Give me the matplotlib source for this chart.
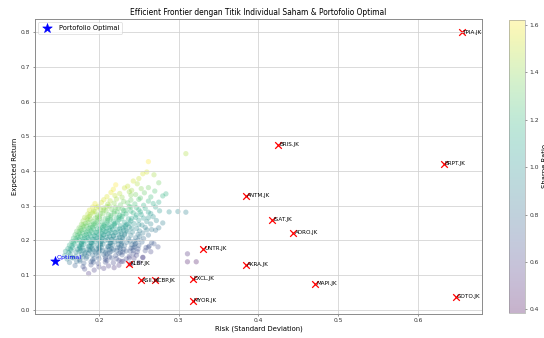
import numpy as np
import matplotlib.pyplot as plt

# Portofolio acak (risk, return)
port_risk = [
    0.262, 0.309,
    0.255, 0.260, 0.269,
    0.243, 0.250, 0.275,
    0.221, 0.236, 0.248, 0.262,
    0.218, 0.232, 0.241, 0.253, 0.270,
    0.215, 0.226, 0.238, 0.246, 0.257, 0.284,
    0.210, 0.220, 0.229, 0.240, 0.252, 0.265, 0.280,
    0.206, 0.214, 0.222, 0.231, 0.240, 0.250, 0.262, 0.275,
    0.195, 0.203, 0.211, 0.219, 0.227, 0.236, 0.245, 0.256, 0.268,
    0.192, 0.199, 0.206, 0.213, 0.221, 0.229, 0.238, 0.247, 0.258, 0.271,
    0.188, 0.195, 0.202, 0.209, 0.216, 0.223, 0.231, 0.240, 0.250, 0.262, 0.276,
    0.186, 0.192, 0.198, 0.205, 0.212, 0.219, 0.226, 0.234, 0.243, 0.253, 0.265, 0.288, 0.299, 0.309,
    0.182, 0.188, 0.195, 0.201, 0.208, 0.215, 0.222, 0.229, 0.237, 0.246, 0.256, 0.268,
    0.180, 0.186, 0.192, 0.198, 0.204, 0.211, 0.218, 0.225, 0.232, 0.240, 0.250, 0.260, 0.272,
    0.178, 0.183, 0.189, 0.195, 0.201, 0.207, 0.213, 0.220, 0.227, 0.235, 0.244, 0.254, 0.265, 0.280,
    0.175, 0.181, 0.187, 0.192, 0.198, 0.204, 0.210, 0.216, 0.223, 0.230, 0.238, 0.247, 0.258, 0.275,
    0.172, 0.178, 0.184, 0.190, 0.196, 0.202, 0.208, 0.214, 0.220, 0.227, 0.234, 0.242, 0.251, 0.260, 0.271,
    0.170, 0.176, 0.182, 0.188, 0.194, 0.200, 0.206, 0.212, 0.218, 0.225, 0.232, 0.240, 0.249, 0.262,
    0.168, 0.174, 0.180, 0.186, 0.192, 0.198, 0.204, 0.210, 0.216, 0.222, 0.229, 0.237, 0.246, 0.256,
    0.166, 0.172, 0.178, 0.184, 0.190, 0.196, 0.202, 0.208, 0.214, 0.220, 0.227, 0.235, 0.244, 0.254, 0.266,
    0.163, 0.169, 0.175, 0.181, 0.187, 0.193, 0.199, 0.205, 0.211, 0.217, 0.224, 0.232, 0.241, 0.250, 0.263, 0.274,
    0.161, 0.167, 0.173, 0.179, 0.185, 0.191, 0.197, 0.203, 0.209, 0.216, 0.223, 0.231, 0.240, 0.249, 0.259,
    0.158, 0.165, 0.171, 0.177, 0.183, 0.189, 0.195, 0.201, 0.208, 0.215, 0.222, 0.230, 0.239, 0.248, 0.265,
    0.157, 0.164, 0.171, 0.178, 0.185, 0.192, 0.199, 0.206, 0.213, 0.221, 0.229, 0.238, 0.247, 0.255, 0.311,
    0.160, 0.168, 0.176, 0.184, 0.192, 0.200, 0.208, 0.216, 0.225, 0.234, 0.244, 0.255,
    0.163, 0.172, 0.181, 0.190, 0.199, 0.208, 0.218, 0.228, 0.239, 0.250, 0.311, 0.322,
    0.170, 0.180, 0.190, 0.200, 0.212, 0.225, 0.240,
    0.182, 0.194, 0.206, 0.219,
    0.187,
    # inti yang lebih padat
    0.189, 0.201, 0.214, 0.228,
    0.186, 0.198, 0.210, 0.223, 0.238,
    0.184, 0.195, 0.207, 0.219, 0.233,
    0.181, 0.193, 0.205, 0.217, 0.231,
    0.179, 0.191, 0.203, 0.215, 0.228,
    0.177, 0.189, 0.201, 0.213, 0.226,
    0.175, 0.187, 0.199, 0.211, 0.224, 0.239,
    0.178, 0.190, 0.202, 0.214, 0.228, 0.245,
    0.176, 0.188, 0.200, 0.212, 0.226, 0.243,
    0.180, 0.192, 0.204, 0.218, 0.234,
    0.182, 0.196, 0.210, 0.225,
    # lapisan tambahan
    0.197, 0.210, 0.224, 0.240,
    0.193, 0.206, 0.219, 0.234, 0.252,
    0.189, 0.202, 0.215, 0.230, 0.247,
    0.185, 0.198, 0.211, 0.225, 0.241, 0.262,
    0.180, 0.193, 0.206, 0.219, 0.233, 0.250,
    0.177, 0.189, 0.201, 0.213, 0.226, 0.241, 0.266,
    0.175, 0.186, 0.197, 0.209, 0.221, 0.236, 0.255,
    0.173, 0.184, 0.195, 0.206, 0.218, 0.232, 0.251,
    0.171, 0.182, 0.193, 0.204, 0.216, 0.230, 0.249,
    0.168, 0.180, 0.191, 0.203, 0.215, 0.229, 0.246, 0.269,
    0.166, 0.178, 0.190, 0.202, 0.214, 0.228, 0.245, 0.262,
    0.164, 0.176, 0.188, 0.200, 0.213, 0.227, 0.243, 0.258,
    0.162, 0.175, 0.187, 0.200, 0.213, 0.227, 0.243,
    0.166, 0.180, 0.194, 0.208, 0.222, 0.238,
    0.176, 0.193, 0.210, 0.230,
]
port_return = [
    0.427, 0.450,
    0.392, 0.397, 0.389,
    0.371, 0.378, 0.366,
    0.360, 0.356, 0.363, 0.352,
    0.347, 0.351, 0.344, 0.349, 0.342,
    0.338, 0.335, 0.340, 0.332, 0.337, 0.334,
    0.326, 0.329, 0.324, 0.330, 0.322, 0.325, 0.328,
    0.317, 0.314, 0.319, 0.312, 0.316, 0.318, 0.313, 0.310,
    0.306, 0.309, 0.304, 0.307, 0.302, 0.308, 0.305, 0.301, 0.306,
    0.296, 0.298, 0.293, 0.299, 0.295, 0.291, 0.297, 0.294, 0.292, 0.296,
    0.287, 0.283, 0.288, 0.285, 0.289, 0.282, 0.286, 0.284, 0.288, 0.281, 0.285,
    0.276, 0.279, 0.273, 0.277, 0.274, 0.278, 0.272, 0.276, 0.279, 0.274, 0.277, 0.282, 0.283, 0.281,
    0.266, 0.269, 0.264, 0.268, 0.263, 0.267, 0.265, 0.269, 0.262, 0.266, 0.264, 0.268,
    0.256, 0.259, 0.254, 0.258, 0.253, 0.257, 0.255, 0.259, 0.252, 0.256, 0.258, 0.254, 0.257,
    0.246, 0.249, 0.244, 0.248, 0.243, 0.247, 0.245, 0.249, 0.242, 0.246, 0.248, 0.244, 0.247, 0.250,
    0.236, 0.239, 0.234, 0.238, 0.233, 0.237, 0.235, 0.239, 0.232, 0.236, 0.238, 0.234, 0.237, 0.236,
    0.226, 0.229, 0.224, 0.228, 0.223, 0.227, 0.225, 0.229, 0.222, 0.226, 0.228, 0.224, 0.227, 0.230, 0.229,
    0.216, 0.219, 0.214, 0.218, 0.213, 0.217, 0.215, 0.219, 0.212, 0.216, 0.218, 0.214, 0.217, 0.215,
    0.206, 0.209, 0.204, 0.208, 0.203, 0.207, 0.205, 0.209, 0.202, 0.206, 0.208, 0.204, 0.207, 0.205,
    0.196, 0.199, 0.194, 0.198, 0.193, 0.197, 0.195, 0.199, 0.192, 0.196, 0.198, 0.194, 0.197, 0.195, 0.193,
    0.186, 0.189, 0.184, 0.188, 0.183, 0.187, 0.185, 0.189, 0.182, 0.186, 0.188, 0.184, 0.187, 0.185, 0.183, 0.181,
    0.176, 0.179, 0.174, 0.178, 0.173, 0.177, 0.175, 0.179, 0.172, 0.176, 0.178, 0.174, 0.177, 0.175, 0.179,
    0.168, 0.171, 0.166, 0.170, 0.165, 0.169, 0.167, 0.171, 0.164, 0.168, 0.170, 0.166, 0.169, 0.167, 0.167,
    0.156, 0.159, 0.154, 0.158, 0.153, 0.157, 0.155, 0.159, 0.152, 0.156, 0.158, 0.154, 0.157, 0.151, 0.161,
    0.146, 0.149, 0.144, 0.148, 0.143, 0.147, 0.145, 0.149, 0.142, 0.146, 0.148, 0.150,
    0.136, 0.139, 0.134, 0.138, 0.133, 0.137, 0.135, 0.139, 0.132, 0.136, 0.138, 0.138,
    0.127, 0.124, 0.129, 0.123, 0.126, 0.128, 0.131,
    0.117, 0.114, 0.119, 0.121,
    0.104,
    0.261, 0.263, 0.260, 0.262,
    0.251, 0.253, 0.250, 0.252, 0.249,
    0.241, 0.243, 0.240, 0.242, 0.239,
    0.231, 0.233, 0.230, 0.232, 0.229,
    0.221, 0.223, 0.220, 0.222, 0.219,
    0.211, 0.213, 0.210, 0.212, 0.209,
    0.201, 0.203, 0.200, 0.202, 0.199, 0.198,
    0.191, 0.193, 0.190, 0.192, 0.189, 0.188,
    0.181, 0.183, 0.180, 0.182, 0.179, 0.178,
    0.171, 0.173, 0.170, 0.172, 0.169,
    0.161, 0.163, 0.160, 0.162,
    0.294, 0.297, 0.292, 0.296,
    0.284, 0.287, 0.283, 0.286, 0.282,
    0.274, 0.277, 0.272, 0.276, 0.273,
    0.264, 0.267, 0.262, 0.266, 0.263, 0.265,
    0.244, 0.247, 0.242, 0.246, 0.243, 0.245,
    0.234, 0.237, 0.232, 0.236, 0.233, 0.235, 0.231,
    0.224, 0.227, 0.222, 0.226, 0.223, 0.225, 0.221,
    0.214, 0.217, 0.212, 0.216, 0.213, 0.215, 0.211,
    0.204, 0.207, 0.202, 0.206, 0.203, 0.205, 0.201,
    0.194, 0.197, 0.192, 0.196, 0.193, 0.195, 0.191, 0.190,
    0.184, 0.187, 0.182, 0.186, 0.183, 0.185, 0.181, 0.180,
    0.174, 0.177, 0.172, 0.176, 0.173, 0.175, 0.171, 0.170,
    0.164, 0.167, 0.162, 0.166, 0.163, 0.165, 0.161,
    0.150, 0.152, 0.148, 0.151, 0.147, 0.149,
    0.140, 0.137, 0.141, 0.139,
]

# Saham individual
saham = ['TPIA.JK', 'BRPT.JK', 'GOTO.JK', 'BRIS.JK', 'ANTM.JK', 'ISAT.JK',
         'ADRO.JK', 'UNTR.JK', 'AKRA.JK', 'EXCL.JK', 'MAPI.JK', 'MYOR.JK',
         'KLBF.JK', 'ASII.JK', 'ICBP.JK']
saham_risk = [0.655, 0.6325, 0.6475, 0.425, 0.384, 0.4175, 0.444, 0.331,
              0.384, 0.3175, 0.471, 0.3175, 0.2375, 0.2525, 0.270]
saham_return = [0.800, 0.421, 0.037, 0.475, 0.329, 0.259, 0.222, 0.176,
                0.130, 0.089, 0.075, 0.026, 0.133, 0.084, 0.084]

# Portofolio optimal
opt_risk = 0.145
opt_return = 0.141

risk = np.array(port_risk)
ret = np.array(port_return)
sharpe = ret / risk

#===============================================================================
W = 12
fig = plt.figure(figsize=(W, W * 338 / 544))
ax = fig.add_axes([0.064, 0.071, 0.822, 0.873])
cax = fig.add_axes([0.936, 0.074, 0.029, 0.867])

sc = ax.scatter(risk, ret, c=sharpe, cmap='viridis', alpha=0.3, s=70,
                vmin=0.385, vmax=1.62, edgecolors='none')
ax.scatter(saham_risk, saham_return, marker='x', color='red', s=110,
           linewidths=2)
for nama, x, y in zip(saham, saham_risk, saham_return):
    ax.annotate(nama, (x, y), xytext=(2, 0), textcoords='offset points',
                va='center', fontsize=9)

ax.scatter(opt_risk, opt_return, marker='*', color='blue', s=250,
           label='Portofolio Optimal', zorder=3)
ax.annotate('Optimal', (opt_risk, opt_return), xytext=(3, 5),
            textcoords='offset points', va='center', color='blue', fontsize=10)

ax.set_title('Efficient Frontier dengan Titik Individual Saham & Portofolio Optimal',
             fontsize=12)
ax.set_xlabel('Risk (Standard Deviation)', fontsize=11)
ax.set_ylabel('Expected Return', fontsize=11)
ax.tick_params(labelsize=9.5, colors='#333333')
ax.grid(True, color='#d0d0d0', linewidth=1.2)
for s in ax.spines.values():
    s.set_color('#888888')
    s.set_linewidth(1.5)
ax.legend(loc='upper left', fontsize=10.5)

cb = fig.colorbar(sc, cax=cax)
cb.set_label('Sharpe Ratio', fontsize=11)
cb.ax.tick_params(labelsize=9.5, colors='#333333')
cb.outline.set_edgecolor('#888888')

fig.savefig('out.png', dpi=544 / W)
